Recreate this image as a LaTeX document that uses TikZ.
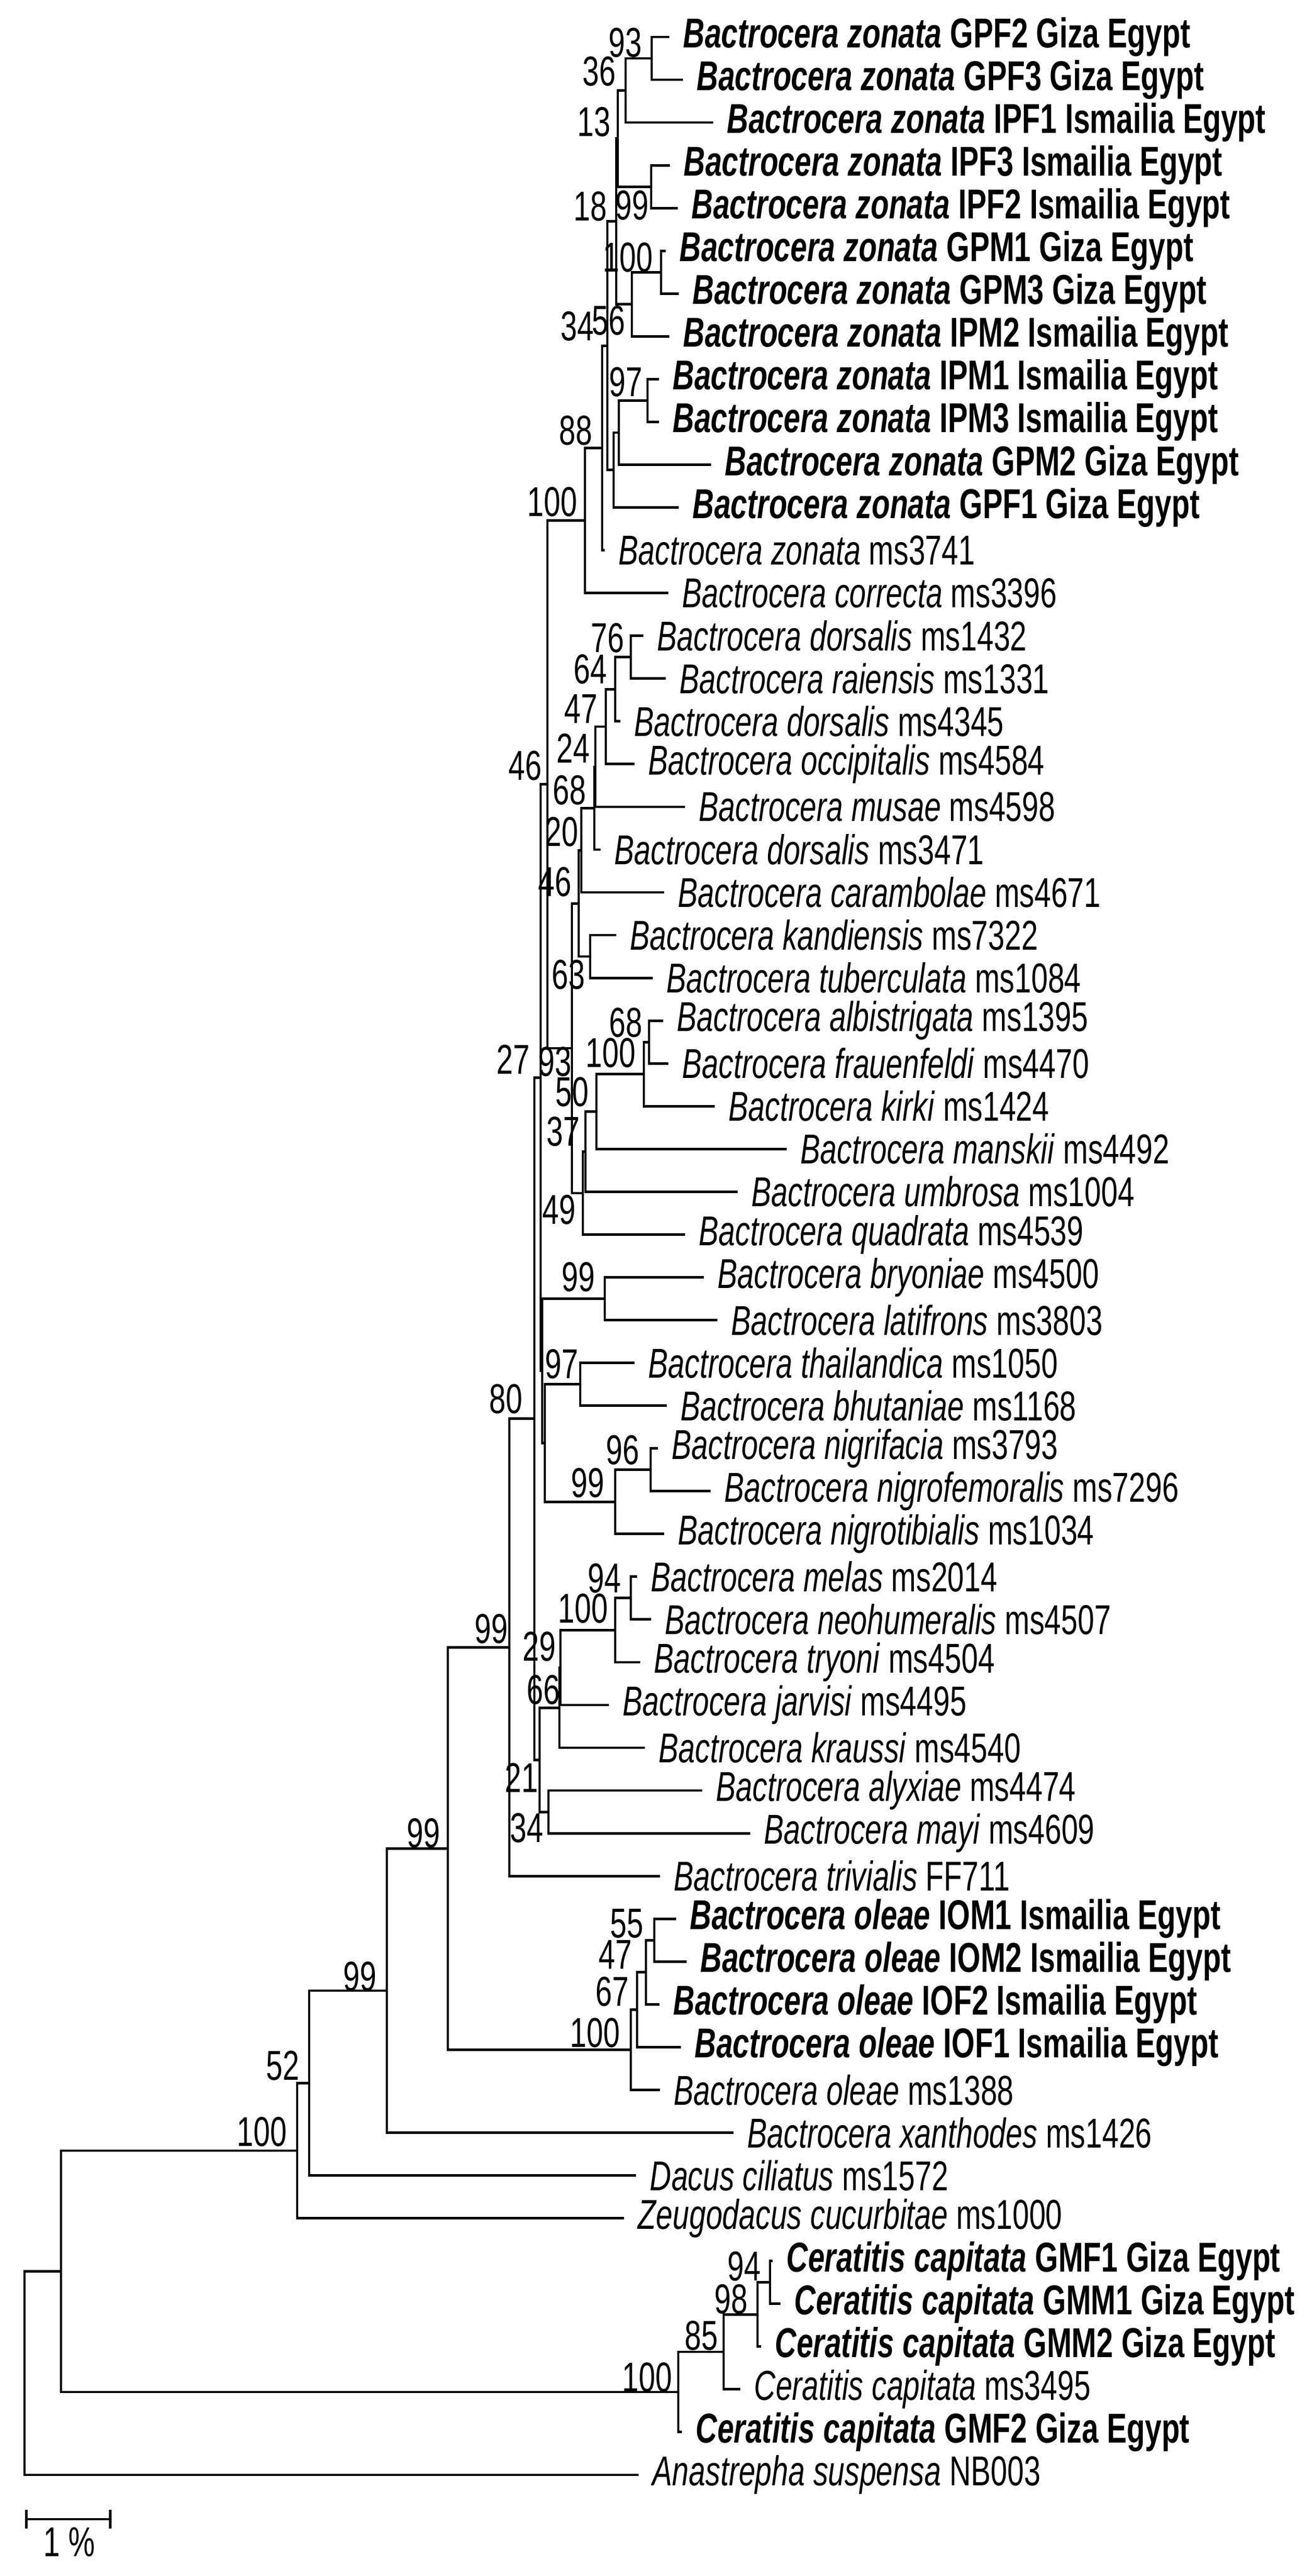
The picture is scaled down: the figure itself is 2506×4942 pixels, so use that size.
\documentclass[tikz,border=0pt]{standalone}
\usepackage{fontspec}
\setmainfont{Liberation Sans}
\usetikzlibrary{calc}
\newcommand{\vstretch}[1]{\scalebox{1}[1.4]{#1}}
\newcommand{\boldleaf}[2]{\textbf{\textit{#1} #2}}
\newcommand{\plainleaf}[2]{\textit{#1} #2}
% join two children (#3,#4) at a node of depth #2
\newcommand{\clade}[4]{%
  \path let \p1=($(#3)!.5!(#4)$) in coordinate (#1) at ($(#2,0)+(0,\y1)$);
  \draw[branch] (#3) -| (#1) |- (#4);}

\begin{document}
\begin{tikzpicture}[x=0.25pt, y=-0.25pt,
    branch/.style={line width=1.2pt, line cap=rect},
    leaf/.style={anchor=west, inner sep=0, font=\fontsize{14.3}{16}\selectfont},
    boot/.style={anchor=east, inner sep=0, font=\fontsize{14.3}{16}\selectfont}]
\useasboundingbox (0,0) rectangle (2506,4942);

% leaves
\foreach \i/\x/\txt in {
  1/1282/{\boldleaf{Bactrocera zonata}{GPF2 Giza Egypt}},
  2/1308/{\boldleaf{Bactrocera zonata}{GPF3 Giza Egypt}},
  3/1366/{\boldleaf{Bactrocera zonata}{IPF1 Ismailia Egypt}},
  4/1283/{\boldleaf{Bactrocera zonata}{IPF3 Ismailia Egypt}},
  5/1298/{\boldleaf{Bactrocera zonata}{IPF2 Ismailia Egypt}},
  6/1275/{\boldleaf{Bactrocera zonata}{GPM1 Giza Egypt}},
  7/1300/{\boldleaf{Bactrocera zonata}{GPM3 Giza Egypt}},
  8/1282/{\boldleaf{Bactrocera zonata}{IPM2 Ismailia Egypt}},
  9/1262/{\boldleaf{Bactrocera zonata}{IPM1 Ismailia Egypt}},
  10/1262/{\boldleaf{Bactrocera zonata}{IPM3 Ismailia Egypt}},
  11/1362/{\boldleaf{Bactrocera zonata}{GPM2 Giza Egypt}},
  12/1300/{\boldleaf{Bactrocera zonata}{GPF1 Giza Egypt}},
  13/1158/{\plainleaf{Bactrocera zonata}{ms3741}},
  14/1280/{\plainleaf{Bactrocera correcta}{ms3396}},
  15/1232/{\plainleaf{Bactrocera dorsalis}{ms1432}},
  16/1275/{\plainleaf{Bactrocera raiensis}{ms1331}},
  17/1188/{\plainleaf{Bactrocera dorsalis}{ms4345}},
  18/1215/{\plainleaf{Bactrocera occipitalis}{ms4584}},
  19/1312/{\plainleaf{Bactrocera musae}{ms4598}},
  20/1150/{\plainleaf{Bactrocera dorsalis}{ms3471}},
  21/1272/{\plainleaf{Bactrocera carambolae}{ms4671}},
  22/1180/{\plainleaf{Bactrocera kandiensis}{ms7322}},
  23/1250/{\plainleaf{Bactrocera tuberculata}{ms1084}},
  24/1270/{\plainleaf{Bactrocera albistrigata}{ms1395}},
  25/1280/{\plainleaf{Bactrocera frauenfeldi}{ms4470}},
  26/1369/{\plainleaf{Bactrocera kirki}{ms1424}},
  27/1507/{\plainleaf{Bactrocera manskii}{ms4492}},
  28/1413/{\plainleaf{Bactrocera umbrosa}{ms1004}},
  29/1312/{\plainleaf{Bactrocera quadrata}{ms4539}},
  30/1348/{\plainleaf{Bactrocera bryoniae}{ms4500}},
  31/1374/{\plainleaf{Bactrocera latifrons}{ms3803}},
  32/1215/{\plainleaf{Bactrocera thailandica}{ms1050}},
  33/1277/{\plainleaf{Bactrocera bhutaniae}{ms1168}},
  34/1260/{\plainleaf{Bactrocera nigrifacia}{ms3793}},
  35/1361/{\plainleaf{Bactrocera nigrofemoralis}{ms7296}},
  36/1272/{\plainleaf{Bactrocera nigrotibialis}{ms1034}},
  37/1220/{\plainleaf{Bactrocera melas}{ms2014}},
  38/1247/{\plainleaf{Bactrocera neohumeralis}{ms4507}},
  39/1226/{\plainleaf{Bactrocera tryoni}{ms4504}},
  40/1166/{\plainleaf{Bactrocera jarvisi}{ms4495}},
  41/1235/{\plainleaf{Bactrocera kraussi}{ms4540}},
  42/1345/{\plainleaf{Bactrocera alyxiae}{ms4474}},
  43/1437/{\plainleaf{Bactrocera mayi}{ms4609}},
  44/1264/{\plainleaf{Bactrocera trivialis}{FF711}},
  45/1295/{\boldleaf{Bactrocera oleae}{IOM1 Ismailia Egypt}},
  46/1315/{\boldleaf{Bactrocera oleae}{IOM2 Ismailia Egypt}},
  47/1263/{\boldleaf{Bactrocera oleae}{IOF2 Ismailia Egypt}},
  48/1304/{\boldleaf{Bactrocera oleae}{IOF1 Ismailia Egypt}},
  49/1264/{\plainleaf{Bactrocera oleae}{ms1388}},
  50/1405/{\plainleaf{Bactrocera xanthodes}{ms1426}},
  51/1218/{\plainleaf{Dacus ciliatus}{ms1572}},
  52/1195/{\plainleaf{Zeugodacus cucurbitae}{ms1000}},
  53/1480/{\boldleaf{Ceratitis capitata}{GMF1 Giza Egypt}},
  54/1495/{\boldleaf{Ceratitis capitata}{GMM1 Giza Egypt}},
  55/1458/{\boldleaf{Ceratitis capitata}{GMM2 Giza Egypt}},
  56/1418/{\plainleaf{Ceratitis capitata}{ms3495}},
  57/1306/{\boldleaf{Ceratitis capitata}{GMF2 Giza Egypt}},
  58/1223/{\plainleaf{Anastrepha suspensa}{NB003}}}{
  \coordinate (t\i) at (\x,{71+(\i-1)*82.05});
  \node[leaf] (l\i) at ([xshift=7pt]t\i) {\vstretch{\txt}};
}

% zonata clade
\clade{n93z}{1250}{t1}{t2}
\clade{n36}{1200}{n93z}{t3}
\clade{n99z}{1249}{t4}{t5}
\clade{n13}{1185}{n36}{n99z}
\clade{n100g}{1268}{t6}{t7}
\clade{n56}{1212}{n100g}{t8}
\clade{n18}{1182}{n13}{n56}
\clade{n97z}{1242}{t9}{t10}
\clade{nza}{1187}{n97z}{t11}
\clade{nzb}{1177}{nza}{t12}
\clade{n34z}{1165}{n18}{nzb}
\clade{n88}{1155}{n34z}{t13}
\clade{n100z}{1122}{n88}{t14}
% dorsalis complex
\clade{n76}{1210}{t15}{t16}
\clade{n64}{1180}{n76}{t17}
\clade{n47}{1162}{n64}{t18}
\clade{n24}{1142}{n47}{t19}
\clade{n68}{1140}{n24}{t20}
\clade{n20}{1115}{n68}{t21}
\clade{n63}{1132}{t22}{t23}
\clade{n46b}{1110}{n20}{n63}
\clade{n68b}{1245}{t24}{t25}
\clade{n100k}{1235}{n68b}{t26}
\clade{n50}{1144}{n100k}{t27}
\clade{n37}{1123}{n50}{t28}
\clade{n49}{1118}{n37}{t29}
\clade{n93}{1097}{n46b}{n49}
\clade{n46a}{1050}{n100z}{n93}
\clade{n99br}{1160}{t30}{t31}
\clade{n97}{1113}{t32}{t33}
\clade{n96}{1248}{t34}{t35}
\clade{n99n}{1180}{n96}{t36}
\clade{nzc}{1045}{n97}{n99n}
\clade{nzd}{1040}{n99br}{nzc}
\clade{n27}{1037}{n46a}{nzd}
\clade{n94m}{1210}{t37}{t38}
\clade{n100m}{1180}{n94m}{t39}
\clade{n29}{1075}{n100m}{t40}
\clade{n66}{1073}{n29}{t41}
\clade{n34}{1052}{t42}{t43}
\clade{n21}{1035}{n66}{n34}
\clade{n80}{1025}{n27}{n21}
\clade{n99c}{977}{n80}{t44}
% oleae and outgroups
\clade{n55}{1255}{t45}{t46}
\clade{n47o}{1239}{n55}{t47}
\clade{n67o}{1222}{n47o}{t48}
\clade{n100o}{1210}{n67o}{t49}
\clade{n99d}{859}{n99c}{n100o}
\clade{n99e}{742}{n99d}{t50}
\clade{n52}{593}{n99e}{t51}
\clade{n100b}{570}{n52}{t52}
\clade{n94c}{1477}{t53}{t54}
\clade{n98}{1453}{n94c}{t55}
\clade{n85}{1388}{n98}{t56}
\clade{ncc}{1301}{n85}{t57}
\clade{nin}{117}{n100b}{ncc}
\clade{root}{47}{nin}{t58}

% bootstrap values
\foreach \x/\y/\v [count=\k] in {1232/82/93, 1182/137/36, 1172/234/13,
  1165/396/18, 1245/394/99, 1253/494/100, 1140/626/34, 1200/615/56,
  1233/733/97, 1137/826/88, 1108/963/100, 1198/1224/76, 1165/1284/64,
  1147/1360/47, 1132/1436/24, 1040/1469/46, 1125/1516/68, 1110/1596/20,
  1097/1692/46, 1123/1870/63, 1233/1962/68, 1017/2033/27, 1097/2037/93,
  1220/2020/100, 1130/2095/50, 1113/2171/37, 1105/2321/49, 1142/2450/99,
  1110/2617/97, 1003/2684/80, 1227/2782/96, 1160/2845/99, 1192/3028/94,
  1167/3086/100, 1067/3159/29, 1075/3242/66, 1033/3411/21, 1043/3507/34,
  1235/3690/55, 1213/3750/47, 1207/3821/67, 1190/3900/100, 975/3125/99,
  845/3517/99, 723/3792/99, 575/3963/52, 551/4090/100, 1460/4348/94,
  1435/4411/98, 1378/4481/85, 1290/4561/100}{
  \node[boot] (b\k) at (\x,\y) {\vstretch{\v}};
}

% scale bar
\coordinate (sba) at (48,4833);
\coordinate (sbb) at (214,4833);
\draw[line width=1.2pt, |-|] (sba) -- (sbb);
\node[inner sep=0, font=\fontsize{14.3}{16}\selectfont] (sbl) at (133,4877) {\vstretch{1 \%}};
\end{tikzpicture}
\end{document}
